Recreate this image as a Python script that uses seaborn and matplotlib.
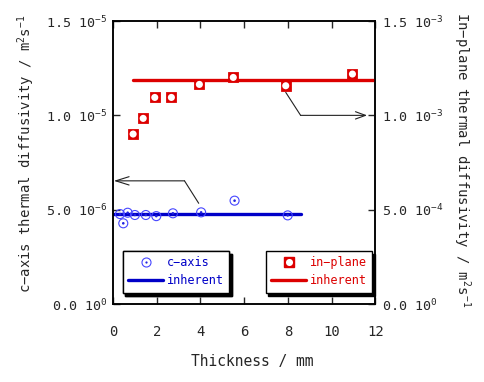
import matplotlib
matplotlib.use("Agg")
import matplotlib.pyplot as plt
import seaborn as sns
from matplotlib.lines import Line2D
from matplotlib.legend_handler import HandlerTuple

# ---- data ------------------------------------------------------------------
# c-axis diffusivity (left axis, m2/s)
c_thick = [0.32, 0.47, 0.67, 1.0, 1.5, 1.98, 2.74, 4.03, 5.56, 7.99]
c_diff = [4.77e-6, 4.28e-6, 4.84e-6, 4.72e-6, 4.72e-6, 4.66e-6, 4.81e-6, 4.86e-6, 5.48e-6, 4.70e-6]
c_inh_x = [0.0, 8.58]
c_inh_y = [4.77e-6, 4.77e-6]

# in-plane diffusivity (right axis, m2/s)
p_thick = [0.92, 1.38, 1.91, 2.67, 3.95, 5.5, 7.9, 10.95]
p_diff = [0.901e-3, 0.984e-3, 1.095e-3, 1.095e-3, 1.164e-3, 1.201e-3, 1.157e-3, 1.219e-3]
p_inh_x = [0.92, 12.0]
p_inh_y = [1.186e-3, 1.186e-3]

x_ticks = [0, 2, 4, 6, 8, 10, 12]
left_ticks = [0, 5e-6, 1e-5, 1.5e-5]
left_labels = ["0.0 10$^{0}$", "5.0 10$^{-6}$", "1.0 10$^{-5}$", "1.5 10$^{-5}$"]
right_ticks = [0, 5e-4, 1e-3, 1.5e-3]
right_labels = ["0.0 10$^{0}$", "5.0 10$^{-4}$", "1.0 10$^{-3}$", "1.5 10$^{-3}$"]

BLUE_PT = "#4646ff"
BLUE = "#0000c8"
RED = "#dc0000"

sns.set_theme(style="ticks")
plt.rcParams["font.family"] = ["DejaVu Sans Mono"]
plt.rcParams["mathtext.fontset"] = "custom"
plt.rcParams["mathtext.rm"] = "DejaVu Sans Mono"
plt.rcParams["mathtext.it"] = "DejaVu Sans Mono"
plt.rcParams["mathtext.default"] = "rm"

fig = plt.figure(figsize=(4.85, 3.82), dpi=100)
ax = fig.add_axes([0.233, 0.204, 0.541, 0.741])
ax2 = ax.twinx()
ax2.set_position(ax.get_position())

# c-axis points: open circle with centre dot
sns.lineplot(x=c_inh_x, y=c_inh_y, ax=ax, color=BLUE, lw=2.4, zorder=2)
sns.scatterplot(x=c_thick, y=c_diff, ax=ax, marker="o", s=42, facecolor="none",
                edgecolor=BLUE_PT, linewidth=0.8, zorder=3)
sns.scatterplot(x=c_thick, y=c_diff, ax=ax, marker="o", s=3.5, color="#2020e0",
                edgecolor="none", zorder=4)

# in-plane points: red square with white circle
sns.lineplot(x=p_inh_x, y=p_inh_y, ax=ax2, color=RED, lw=2.4, zorder=2)
sns.scatterplot(x=p_thick, y=p_diff, ax=ax2, marker="s", s=52, color=RED,
                edgecolor=RED, zorder=3)
sns.scatterplot(x=p_thick, y=p_diff, ax=ax2, marker="o", s=26, color="white",
                edgecolor="none", zorder=4)

# annotation arrows pointing to the relevant axis
ax.plot([3.92, 3.27], [5.34e-6, 6.53e-6], color="#222222", lw=0.8)
ax.annotate("", xy=(0.04, 6.53e-6), xytext=(3.27, 6.53e-6),
            arrowprops=dict(arrowstyle="->,head_length=0.8,head_width=0.25",
                            color="#222222", lw=0.8, shrinkA=0, shrinkB=0))
ax2.plot([7.9, 8.58], [1.122e-3, 1.0e-3], color="#222222", lw=0.8)
ax2.annotate("", xy=(11.62, 1.0e-3), xytext=(8.58, 1.0e-3),
             arrowprops=dict(arrowstyle="->,head_length=0.6,head_width=0.22",
                             color="#222222", lw=0.8, shrinkA=0, shrinkB=0))

# axes, ticks
ax.set_xlim(0, 12)
ax.set_ylim(0, 1.5e-5)
ax2.set_ylim(0, 1.5e-3)
ax.set_xticks(x_ticks)
ax.set_yticks(left_ticks)
ax.set_yticklabels(left_labels)
ax2.set_yticks(right_ticks)
ax2.set_yticklabels(right_labels)
ax.tick_params(axis="x", direction="in", top=True, length=5, width=1, pad=15, labelsize=10)
ax.tick_params(axis="y", direction="in", right=False, length=5, width=1, pad=4, labelsize=9.6)
ax2.tick_params(axis="y", direction="in", length=5, width=1, pad=5, labelsize=9.6)
for a in (ax, ax2):
    for sp in a.spines.values():
        sp.set_color("black")
        sp.set_linewidth(1.1)

ax.set_xlabel("Thickness / mm", fontsize=10.5)
ax.xaxis.set_label_coords(0.53, -0.175)
ax.xaxis.label.set_va("top")
ax.set_ylabel("c−axis thermal diffusivity / m$^{2}$s$^{-1}$", fontsize=10)
ax.yaxis.set_label_coords(-0.29, 0.53)
ax2.set_ylabel("In−plane thermal diffusivity / m$^{2}$s$^{-1}$", fontsize=10,
               rotation=270, va="bottom")
ax2.yaxis.set_label_coords(1.29, 0.51)

# legends
h_c = (Line2D([], [], ls="none", marker="o", ms=6.5, mfc="none", mec=BLUE_PT, mew=0.8),
       Line2D([], [], ls="none", marker="o", ms=1.6, mfc="#2020e0", mec="none"))
h_cl = Line2D([], [], color=BLUE, lw=2.4)
h_p = (Line2D([], [], ls="none", marker="s", ms=7.2, mfc=RED, mec=RED),
       Line2D([], [], ls="none", marker="o", ms=5.1, mfc="white", mec="none"))
h_pl = Line2D([], [], color=RED, lw=2.4)

leg_kw = dict(loc="lower left", borderaxespad=0, fontsize=8.5, handlelength=3.0,
              handletextpad=0.3, borderpad=0.45, labelspacing=0.45, fancybox=False,
              edgecolor="black", framealpha=1,
              shadow={"color": "black", "alpha": 1},
              handler_map={tuple: HandlerTuple(ndivide=1, pad=0)})
leg1 = ax.legend([h_c, h_cl], ["c−axis", "inherent"], bbox_to_anchor=(0.037, 0.04),
                 labelcolor=BLUE, **leg_kw)
leg1.get_frame().set_linewidth(1.0)
leg2 = ax2.legend([h_p, h_pl], ["in−plane", "inherent"], bbox_to_anchor=(0.582, 0.04),
                  labelcolor=RED, **leg_kw)
leg2.get_frame().set_linewidth(1.0)
ax.add_artist(leg1)
ax2.set_zorder(ax.get_zorder() + 1)
ax2.patch.set_visible(False)

fig.savefig("out.png", dpi=100)
